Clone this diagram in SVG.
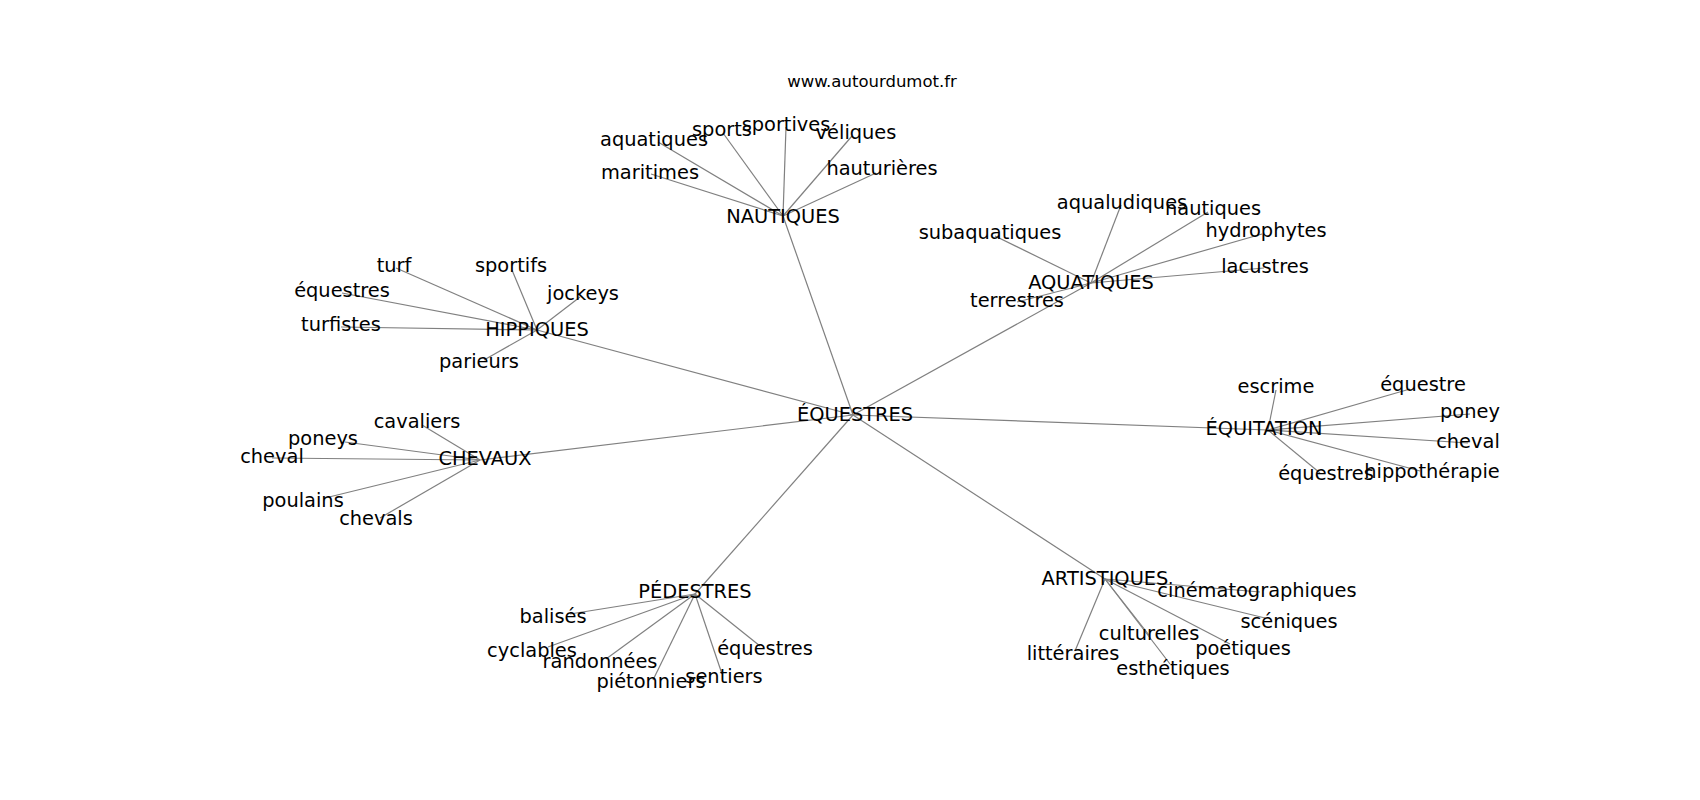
<svg xmlns="http://www.w3.org/2000/svg" width="1700" height="800" viewBox="0 0 1700 800">
<style>
.e{stroke:#808080;stroke-width:1.2;fill:none}
.l{font-family:"DejaVu Sans","Liberation Sans",sans-serif;font-size:19.4px;fill:#000;text-anchor:middle}
.t{font-family:"DejaVu Sans","Liberation Sans",sans-serif;font-size:16.5px;fill:#000;text-anchor:middle}
</style>
<rect width="1700" height="800" fill="#fff"/>
<text class="t" x="872" y="87">www.autourdumot.fr</text>
<g id="edges">
<line class="e" x1="853" y1="415" x2="783" y2="216"/>
<line class="e" x1="853" y1="415" x2="1091" y2="283"/>
<line class="e" x1="853" y1="415" x2="537" y2="330"/>
<line class="e" x1="853" y1="415" x2="480" y2="460"/>
<line class="e" x1="853" y1="415" x2="1268" y2="430"/>
<line class="e" x1="853" y1="415" x2="695" y2="594"/>
<line class="e" x1="853" y1="415" x2="1105" y2="579"/>
<line class="e" x1="783" y1="216" x2="658" y2="142"/>
<line class="e" x1="783" y1="216" x2="651" y2="174"/>
<line class="e" x1="783" y1="216" x2="723" y2="133"/>
<line class="e" x1="783" y1="216" x2="786" y2="127"/>
<line class="e" x1="783" y1="216" x2="852" y2="136"/>
<line class="e" x1="783" y1="216" x2="876" y2="173"/>
<line class="e" x1="1091" y1="283" x2="1121" y2="205"/>
<line class="e" x1="1091" y1="283" x2="1208" y2="212"/>
<line class="e" x1="1091" y1="283" x2="995" y2="236"/>
<line class="e" x1="1091" y1="283" x2="1262" y2="234"/>
<line class="e" x1="1091" y1="283" x2="1264" y2="268"/>
<line class="e" x1="1091" y1="283" x2="1017" y2="302"/>
<line class="e" x1="537" y1="330" x2="396" y2="268"/>
<line class="e" x1="537" y1="330" x2="512" y2="270"/>
<line class="e" x1="537" y1="330" x2="342" y2="293"/>
<line class="e" x1="537" y1="330" x2="580" y2="297"/>
<line class="e" x1="537" y1="330" x2="341" y2="327"/>
<line class="e" x1="537" y1="330" x2="484" y2="360"/>
<line class="e" x1="480" y1="460" x2="422" y2="425"/>
<line class="e" x1="480" y1="460" x2="345" y2="442"/>
<line class="e" x1="480" y1="460" x2="272" y2="458"/>
<line class="e" x1="480" y1="460" x2="325" y2="498"/>
<line class="e" x1="480" y1="460" x2="380" y2="518"/>
<line class="e" x1="1268" y1="430" x2="1276" y2="390"/>
<line class="e" x1="1268" y1="430" x2="1410" y2="389"/>
<line class="e" x1="1268" y1="430" x2="1470" y2="414"/>
<line class="e" x1="1268" y1="430" x2="1468" y2="443"/>
<line class="e" x1="1268" y1="430" x2="1320" y2="473"/>
<line class="e" x1="1268" y1="430" x2="1420" y2="471"/>
<line class="e" x1="695" y1="594" x2="570" y2="614"/>
<line class="e" x1="695" y1="594" x2="548" y2="647"/>
<line class="e" x1="695" y1="594" x2="606" y2="659"/>
<line class="e" x1="695" y1="594" x2="653" y2="680"/>
<line class="e" x1="695" y1="594" x2="722" y2="674"/>
<line class="e" x1="695" y1="594" x2="760" y2="646"/>
<line class="e" x1="1105" y1="579" x2="1260" y2="592"/>
<line class="e" x1="1105" y1="579" x2="1265" y2="618"/>
<line class="e" x1="1105" y1="579" x2="1149" y2="635"/>
<line class="e" x1="1105" y1="579" x2="1230" y2="644"/>
<line class="e" x1="1105" y1="579" x2="1075" y2="651"/>
<line class="e" x1="1105" y1="579" x2="1170" y2="664"/>
</g>
<g id="n-equestres"><text class="l" x="855" y="421">ÉQUESTRES</text></g>
<g id="n-nautiques"><text class="l" x="783" y="223">NAUTIQUES</text></g>
<g id="n-aquatiques-nau"><text class="l" x="654" y="146">aquatiques</text></g>
<g id="n-maritimes"><text class="l" x="650" y="179">maritimes</text></g>
<g id="n-sports"><text class="l" x="722" y="136">sports</text></g>
<g id="n-sportives"><text class="l" x="786" y="131">sportives</text></g>
<g id="n-veliques"><text class="l" x="856" y="139">véliques</text></g>
<g id="n-hauturieres"><text class="l" x="882" y="175">hauturières</text></g>
<g id="n-aquatiques"><text class="l" x="1091" y="289">AQUATIQUES</text></g>
<g id="n-aqualudiques"><text class="l" x="1122" y="209">aqualudiques</text></g>
<g id="n-nautiques-aq"><text class="l" x="1213" y="215">nautiques</text></g>
<g id="n-subaquatiques"><text class="l" x="990" y="239">subaquatiques</text></g>
<g id="n-hydrophytes"><text class="l" x="1266" y="237">hydrophytes</text></g>
<g id="n-lacustres"><text class="l" x="1265" y="273">lacustres</text></g>
<g id="n-terrestres"><text class="l" x="1017" y="307">terrestres</text></g>
<g id="n-hippiques"><text class="l" x="537" y="336">HIPPIQUES</text></g>
<g id="n-turf"><text class="l" x="394" y="272">turf</text></g>
<g id="n-sportifs"><text class="l" x="511" y="272">sportifs</text></g>
<g id="n-equestres-hip"><text class="l" x="342" y="297">équestres</text></g>
<g id="n-jockeys"><text class="l" x="583" y="300">jockeys</text></g>
<g id="n-turfistes"><text class="l" x="341" y="331">turfistes</text></g>
<g id="n-parieurs"><text class="l" x="479" y="368">parieurs</text></g>
<g id="n-chevaux"><text class="l" x="485" y="465">CHEVAUX</text></g>
<g id="n-cavaliers"><text class="l" x="417" y="428">cavaliers</text></g>
<g id="n-poneys"><text class="l" x="323" y="445">poneys</text></g>
<g id="n-cheval-chx"><text class="l" x="272" y="463">cheval</text></g>
<g id="n-poulains"><text class="l" x="303" y="507">poulains</text></g>
<g id="n-chevals"><text class="l" x="376" y="525">chevals</text></g>
<g id="n-equitation"><text class="l" x="1264" y="435">ÉQUITATION</text></g>
<g id="n-escrime"><text class="l" x="1276" y="393">escrime</text></g>
<g id="n-equestre"><text class="l" x="1423" y="391">équestre</text></g>
<g id="n-poney"><text class="l" x="1470" y="418">poney</text></g>
<g id="n-cheval-eq"><text class="l" x="1468" y="448">cheval</text></g>
<g id="n-equestres-eq"><text class="l" x="1326" y="480">équestres</text></g>
<g id="n-hippotherapie"><text class="l" x="1432" y="478">hippothérapie</text></g>
<g id="n-pedestres"><text class="l" x="695" y="598">PÉDESTRES</text></g>
<g id="n-balises"><text class="l" x="553" y="623">balisés</text></g>
<g id="n-cyclables"><text class="l" x="532" y="657">cyclables</text></g>
<g id="n-randonnees"><text class="l" x="600" y="668">randonnées</text></g>
<g id="n-pietonniers"><text class="l" x="651" y="688">piétonniers</text></g>
<g id="n-sentiers"><text class="l" x="724" y="683">sentiers</text></g>
<g id="n-equestres-ped"><text class="l" x="765" y="655">équestres</text></g>
<g id="n-artistiques"><text class="l" x="1105" y="585">ARTISTIQUES</text></g>
<g id="n-cinematographiques"><text class="l" x="1257" y="597">cinématographiques</text></g>
<g id="n-sceniques"><text class="l" x="1289" y="628">scéniques</text></g>
<g id="n-culturelles"><text class="l" x="1149" y="640">culturelles</text></g>
<g id="n-poetiques"><text class="l" x="1243" y="655">poétiques</text></g>
<g id="n-litteraires"><text class="l" x="1073" y="660">littéraires</text></g>
<g id="n-esthetiques"><text class="l" x="1173" y="675">esthétiques</text></g>
</svg>
